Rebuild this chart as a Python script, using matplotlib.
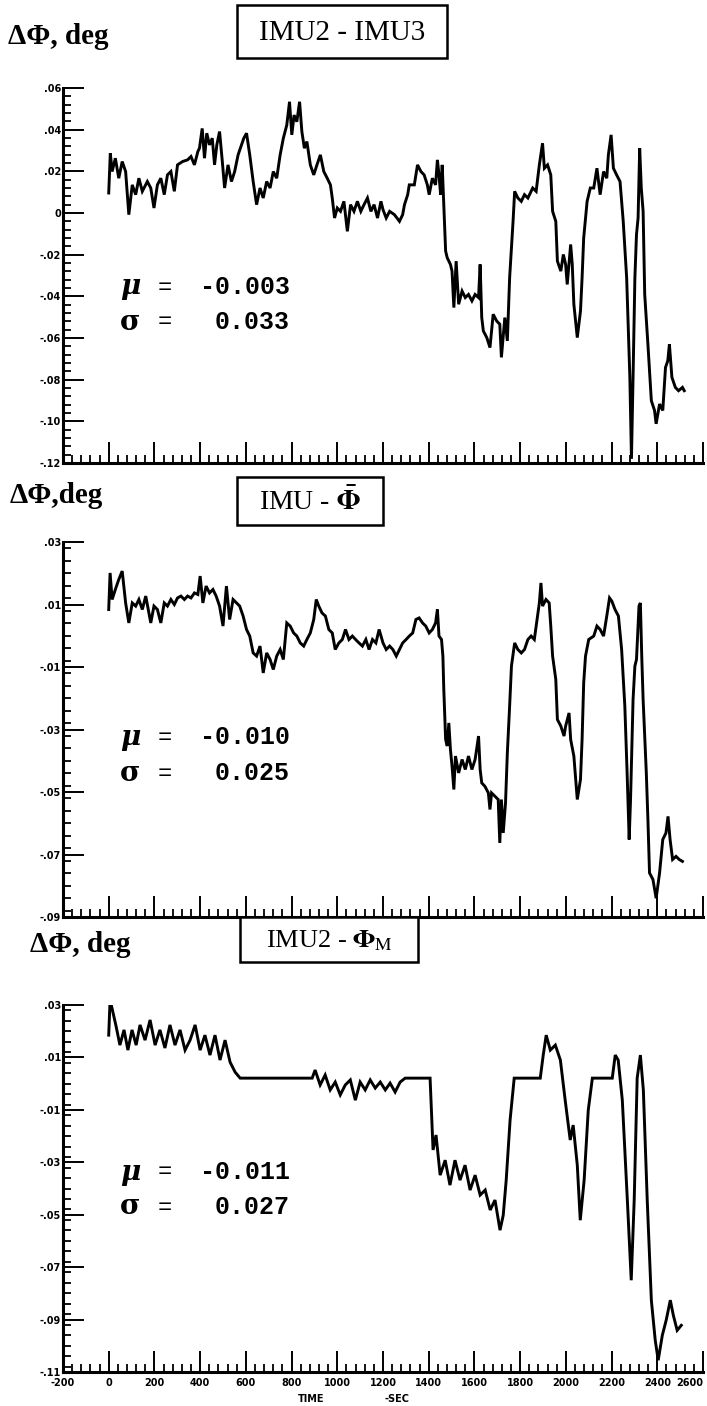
import matplotlib.pyplot as plt
from matplotlib.patches import Rectangle
from matplotlib.ticker import MultipleLocator, FuncFormatter

plt.rcParams['mathtext.fontset'] = 'stix'

# IMU2 - IMU3 (time in sec, delta phi in deg)
t1 = [0, 7, 15, 29, 44, 59, 74, 88, 103, 118, 132, 147, 169, 184, 198, 213, 228, 243,
      257, 272, 287, 301, 323, 345, 360, 375, 390, 397, 409, 419, 429, 441, 453, 463,
      473, 485, 497, 507, 522, 537, 551, 566, 581, 591, 603, 617, 632, 647, 662, 676,
      691, 706, 720, 735, 750, 764, 779, 791, 801, 811, 823, 835, 845, 856, 867, 882,
      897, 911, 926, 941, 956, 970, 978, 988, 1000, 1014, 1029, 1044, 1058, 1073, 1088,
      1103, 1117, 1132, 1147, 1161, 1176, 1191,
      1200, 1214, 1229, 1250, 1272, 1286, 1294, 1308, 1315, 1337, 1351, 1366, 1380,
      1394, 1402, 1416, 1430, 1438, 1445, 1452, 1459, 1466, 1474, 1481, 1495, 1502,
      1510, 1520, 1531, 1546, 1560, 1574, 1589, 1603, 1618, 1625, 1632, 1639, 1654,
      1668, 1682, 1697, 1711, 1718, 1733, 1744, 1754, 1769, 1776, 1790, 1805, 1819,
      1834, 1855, 1870, 1884, 1898, 1906, 1920, 1934, 1942, 1956, 1963, 1978, 1989,
      1999, 2006, 2021, 2028, 2035, 2050, 2064, 2071, 2078, 2093, 2107, 2122, 2136,
      2150, 2165, 2179, 2186, 2198, 2208, 2222, 2237, 2251, 2266, 2280, 2287, 2294,
      2302, 2309, 2316, 2323, 2330, 2338, 2345, 2359, 2374, 2388, 2395, 2410, 2424,
      2436, 2446, 2453, 2464, 2479, 2493, 2510, 2518]
d1 = [0.0096, 0.0287, 0.0199, 0.0263, 0.0167, 0.0247, 0.0199, -0.0008, 0.0135, 0.0088,
      0.0167, 0.0104, 0.0151, 0.0120, 0.0024, 0.0135, 0.0167, 0.0088, 0.0183, 0.0199,
      0.0104, 0.0231, 0.0247, 0.0255, 0.0271, 0.0231, 0.0295, 0.0311, 0.0406, 0.0263,
      0.0383, 0.0327, 0.0359, 0.0231, 0.0327, 0.0391, 0.0247, 0.0120, 0.0231, 0.0151,
      0.0199, 0.0279, 0.0327, 0.0359, 0.0383, 0.0279, 0.0151, 0.0040, 0.0120, 0.0072,
      0.0151, 0.0120, 0.0199, 0.0167, 0.0279, 0.0359, 0.0422, 0.0534, 0.0375, 0.0470,
      0.0438, 0.0534, 0.0391, 0.0311, 0.0343, 0.0231, 0.0183, 0.0231, 0.0279, 0.0199,
      0.0167, 0.0135, 0.0072, -0.0024, 0.0024, 0.0008, 0.0056, -0.0088, 0.0040, 0.0008,
      0.0056, 0.0008, 0.0040, 0.0072, 0.0008, 0.0040, -0.0024, 0.0056,
      0.0016, -0.0024, 0.0008, -0.0008, -0.0040, -0.0008, 0.0040, 0.0088, 0.0135,
      0.0135, 0.0231, 0.0199, 0.0183, 0.0135, 0.0088, 0.0167, 0.0135, 0.0255, 0.0183,
      0.0088, 0.0231, 0.0040, -0.0183, -0.0215, -0.0247, -0.0279, -0.0454, -0.0231,
      -0.0438, -0.0375, -0.0406, -0.0391, -0.0422, -0.0391, -0.0406, -0.0247, -0.0502,
      -0.0566, -0.0598, -0.0646, -0.0486, -0.0518, -0.0534, -0.0693, -0.0502, -0.0614,
      -0.0311, -0.0040, 0.0104, 0.0072, 0.0056, 0.0088, 0.0072, 0.0120, 0.0104, 0.0231,
      0.0335, 0.0215, 0.0231, 0.0183, 0.0008, -0.0040, -0.0231, -0.0279, -0.0199,
      -0.0247, -0.0343, -0.0151, -0.0247, -0.0438, -0.0598, -0.0470, -0.0311, -0.0120,
      0.0056, 0.0120, 0.0120, 0.0215, 0.0088, 0.0199, 0.0167, 0.0279, 0.0375, 0.0215,
      0.0183, 0.0151, -0.0040, -0.0311, -0.0789, -0.1180, -0.0789, -0.0311, -0.0104,
      -0.0024, 0.0311, 0.0120, 0.0008, -0.0391, -0.0630, -0.0901, -0.0948, -0.1012,
      -0.0917, -0.0948, -0.0741, -0.0709, -0.0630, -0.0789, -0.0837, -0.0853, -0.0837,
      -0.0853]

# IMU - mean phi
t2 = [0, 6, 15, 29, 44, 59, 74, 88, 103, 118, 132, 147, 162, 184, 198, 213, 228, 243,
      257, 272, 287, 301, 316, 331, 345, 360, 375, 390, 400, 412, 426, 441, 456, 470,
      485, 500, 515, 529, 544, 559, 573, 588, 603, 617, 632, 647, 662, 676, 691, 706,
      720, 735, 750, 764, 779, 794, 809, 823, 838, 853, 867, 882, 897, 908, 919, 933,
      948, 963, 978, 991, 1007, 1022, 1036, 1051, 1066, 1080, 1095, 1110, 1125, 1139,
      1154, 1169, 1183,
      1200, 1214, 1229, 1243, 1258, 1272, 1286, 1301, 1315, 1330, 1344, 1358, 1373,
      1387, 1402, 1416, 1430, 1438, 1445, 1456, 1462, 1466, 1474, 1481, 1488, 1495,
      1502, 1510, 1517, 1531, 1546, 1560, 1574, 1589, 1603, 1618, 1625, 1632, 1646,
      1661, 1668, 1675, 1690, 1704, 1711, 1718, 1726, 1736, 1744, 1754, 1762, 1776,
      1790, 1805, 1819, 1834, 1848, 1862, 1870, 1884, 1891, 1898, 1913, 1927, 1934,
      1942, 1956, 1963, 1978, 1992, 1999, 2014, 2021, 2035, 2050, 2064, 2071, 2078,
      2086, 2100, 2122, 2136, 2150, 2165, 2179, 2191, 2201, 2215, 2230, 2244, 2258,
      2268, 2277, 2283, 2294, 2302, 2309, 2320, 2326, 2332, 2338, 2352, 2359, 2366,
      2381, 2395, 2410, 2424, 2438, 2447, 2456, 2467, 2482, 2496, 2510]
d2 = [0.0084, 0.0201, 0.0116, 0.0148, 0.0180, 0.0207, 0.0105, 0.0041, 0.0105, 0.0095,
      0.0116, 0.0084, 0.0127, 0.0041, 0.0095, 0.0084, 0.0041, 0.0105, 0.0095, 0.0116,
      0.0100, 0.0121, 0.0127, 0.0116, 0.0127, 0.0121, 0.0137, 0.0132, 0.0191, 0.0105,
      0.0159, 0.0137, 0.0148, 0.0127, 0.0095, 0.0031, 0.0159, 0.0052, 0.0116, 0.0105,
      0.0095, 0.0063, 0.0020, -0.0001, -0.0055, -0.0065, -0.0033, -0.0119, -0.0055,
      -0.0076, -0.0108, -0.0065, -0.0044, -0.0076, 0.0041, 0.0031, 0.0009, -0.0001,
      -0.0023, -0.0033, -0.0012, 0.0009, 0.0052, 0.0116, 0.0095, 0.0073, 0.0063, 0.0020,
      0.0009, -0.0044, -0.0023, -0.0012, 0.0020, -0.0012, -0.0001, -0.0012, -0.0023,
      -0.0033, -0.0012, -0.0044, -0.0012, -0.0023, 0.0020,
      -0.0023, -0.0044, -0.0033, -0.0044, -0.0065, -0.0044, -0.0023, -0.0012, -0.0001,
      0.0009, 0.0052, 0.0057, 0.0041, 0.0031, 0.0009, 0.0020, 0.0041, 0.0084, -0.0001,
      -0.0012, -0.0065, -0.0172, -0.0332, -0.0353, -0.0279, -0.0364, -0.0417, -0.0492,
      -0.0385, -0.0439, -0.0396, -0.0428, -0.0385, -0.0428, -0.0396, -0.0321, -0.0428,
      -0.0471, -0.0482, -0.0503, -0.0556, -0.0503, -0.0514, -0.0524, -0.0663, -0.0524,
      -0.0631, -0.0535, -0.0375, -0.0225, -0.0097, -0.0023, -0.0044, -0.0055, -0.0044,
      -0.0012, -0.0001, -0.0012, 0.0031, 0.0105, 0.0169, 0.0095, 0.0116, 0.0105, 0.0031,
      -0.0065, -0.0140, -0.0268, -0.0289, -0.0321, -0.0289, -0.0247, -0.0332, -0.0385,
      -0.0524, -0.0460, -0.0332, -0.0151, -0.0065, -0.0012, -0.0001, 0.0031, 0.0020,
      -0.0001, 0.0063, 0.0121, 0.0111, 0.0084, 0.0063, -0.0044, -0.0225, -0.0439,
      -0.0652, -0.0524, -0.0204, -0.0097, -0.0076, 0.0095, 0.0105, -0.0065, -0.0204,
      -0.0439, -0.0588, -0.0759, -0.0780, -0.0840, -0.0759, -0.0652, -0.0631, -0.0578,
      -0.0652, -0.0716, -0.0706, -0.0716, -0.0722]

# IMU2 - phi_M
t3 = [0, 6, 19, 32, 49, 67, 84, 102, 120, 137, 159, 181, 203, 224, 246, 268, 290, 312,
      334, 356, 378, 400, 421, 443, 465, 487, 509, 531, 553, 575, 890, 903, 925, 947,
      969, 991, 1013, 1035, 1057, 1079, 1100, 1122, 1144, 1166, 1188, 1210, 1231, 1253,
      1275, 1297, 1406, 1419, 1432, 1450, 1472, 1493, 1515, 1537, 1559, 1581, 1603,
      1625, 1647, 1669, 1690, 1712, 1726, 1739, 1756, 1774, 1888, 1901, 1914, 1932,
      1954, 1976, 1997, 2019, 2032, 2050, 2063, 2080, 2098, 2116, 2203, 2216, 2229,
      2247, 2269, 2286, 2299, 2312, 2326, 2339, 2356, 2374, 2391, 2404, 2422, 2439,
      2457, 2470, 2487, 2505]
d3 = [0.0185, 0.0320, 0.0270, 0.0220, 0.0147, 0.0205, 0.0128, 0.0205, 0.0147, 0.0224,
      0.0166, 0.0243, 0.0147, 0.0205, 0.0136, 0.0224, 0.0147, 0.0205, 0.0128, 0.0166,
      0.0224, 0.0128, 0.0185, 0.0109, 0.0185, 0.0090, 0.0166, 0.0082, 0.0044, 0.0021,
      0.0021, 0.0052, -0.0005, 0.0033, -0.0024, 0.0006, -0.0043, -0.0005, 0.0014,
      -0.0063, 0.0006, -0.0024, 0.0014, -0.0017, 0.0006, -0.0024, 0.0002, -0.0032,
      0.0006, 0.0021, 0.0021, -0.0253, -0.0196, -0.0349, -0.0292, -0.0387, -0.0292,
      -0.0368, -0.0311, -0.0406, -0.0349, -0.0425, -0.0406, -0.0482, -0.0444, -0.0559,
      -0.0502, -0.0368, -0.0139, 0.0021, 0.0021, 0.0109, 0.0185, 0.0128, 0.0147, 0.0090,
      -0.0063, -0.0215, -0.0158, -0.0311, -0.0521, -0.0368, -0.0101, 0.0021, 0.0021,
      0.0109, 0.0090, -0.0063, -0.0444, -0.0750, -0.0444, 0.0021, 0.0109, -0.0024,
      -0.0444, -0.0826, -0.0979, -0.1055, -0.0960, -0.0902, -0.0826, -0.0883, -0.0941,
      -0.0922]

x_ticks = list(range(-200, 2601, 200))
y_limits = [(-0.12, 0.06), (-0.09, 0.03), (-0.11, 0.03)]
y_ticks = [[-0.12, -0.10, -0.08, -0.06, -0.04, -0.02, 0.0, 0.02, 0.04, 0.06],
           [-0.09, -0.07, -0.05, -0.03, -0.01, 0.01, 0.03],
           [-0.11, -0.09, -0.07, -0.05, -0.03, -0.01, 0.01, 0.03]]
titles = ['IMU2 - IMU3', r'IMU - $\mathbf{\bar{\Phi}}$', r'IMU2 - $\mathbf{\Phi}_{\mathrm{M}}$']
headers = ['ΔΦ, deg', 'ΔΦ,deg', 'ΔΦ, deg']
means = ['-0.003', '-0.010', '-0.011']
sigmas = ['0.033', '0.025', '0.027']

W, H = 707, 1406
fig = plt.figure(figsize=(W / 100, H / 100), dpi=100)


def fx(px):
    return px / W


def fy(py):
    return 1 - py / H


def ylab(v, pos):
    if abs(v) < 1e-9:
        return '0'
    return f'{v:.2f}'.replace('0.', '.', 1)


# axes boxes in pixels: (left, top, right, bottom)
boxes = [(63, 88, 703, 463), (63, 542, 703, 917), (63, 1005, 703, 1372)]
title_boxes = [(237, 5, 447, 58), (237, 477, 383, 525), (240, 917, 418, 962)]
title_size = [21, 20, 19]
header_pos = [(8, 37), (10, 495), (30, 945)]
stat_y = [(287, 322), (737, 773), (1172, 1207)]

for i, (ts, ds) in enumerate([(t1, d1), (t2, d2), (t3, d3)]):
    l, t, r, b = boxes[i]
    ax = fig.add_axes([fx(l), fy(b), (r - l) / W, (b - t) / H])
    ax.plot(ts, ds, color='black', lw=2.1, solid_joinstyle='miter')
    ax.set_xlim(-200, 2600)
    ax.set_ylim(*y_limits[i])
    ax.set_yticks(y_ticks[i])
    ax.yaxis.set_major_formatter(FuncFormatter(ylab))
    ax.yaxis.set_minor_locator(MultipleLocator(0.004))
    ax.set_xticks(x_ticks)
    ax.set_xticklabels([str(v) for v in x_ticks])
    ax.xaxis.set_minor_locator(MultipleLocator(40))
    for s in ['top', 'right']:
        ax.spines[s].set_visible(False)
    for s in ['left', 'bottom']:
        ax.spines[s].set_linewidth(2.2)
    ax.tick_params(which='major', direction='in', length=15, width=1.4,
                   labelsize=7, pad=1.5)
    ax.tick_params(axis='x', which='major', pad=4)
    ax.tick_params(which='minor', direction='in', length=6, width=1.3)
    for lab in ax.get_yticklabels() + ax.get_xticklabels():
        lab.set_fontweight('heavy')
        lab.set_family('DejaVu Sans')
    if i < 2:
        ax.tick_params(axis='x', labelbottom=False)
    else:
        ax.get_xticklabels()[-1].set_horizontalalignment('right')

    # header and boxed title
    hx, hy = header_pos[i]
    fig.text(fx(hx), fy(hy), headers[i], fontsize=21, fontweight='bold',
             family='Liberation Serif', ha='left', va='center')
    bl, bt, br, bb = title_boxes[i]
    fig.patches.append(Rectangle((fx(bl), fy(bb)), (br - bl) / W, (bb - bt) / H,
                                 transform=fig.transFigure, fill=True, fc='white',
                                 ec='black', lw=1.8, zorder=5))
    fig.text(fx((bl + br) / 2), fy((bt + bb) / 2 + 1), titles[i], fontsize=title_size[i],
             family='Liberation Serif', ha='center', va='center', zorder=6)

    # statistics
    my, sy = stat_y[i]
    fig.text(fx(120), fy(my), 'μ', fontsize=20, fontweight='bold', style='italic',
             family='DejaVu Serif', ha='left', va='center')
    fig.text(fx(120), fy(sy), 'σ', fontsize=20, fontweight='bold',
             family='DejaVu Serif', ha='left', va='center')
    for yy, val in [(my, means[i]), (sy, sigmas[i])]:
        fig.text(fx(158), fy(yy), '=', fontsize=17, family='Liberation Mono',
                 ha='left', va='center')
        fig.text(fx(290), fy(yy), val, fontsize=18, family='Liberation Mono',
                 fontweight='bold', ha='right', va='center')

fig.text(fx(311), fy(1399), 'TIME', fontsize=7, fontweight='heavy', ha='center', va='center')
fig.text(fx(397), fy(1399), '-SEC', fontsize=7, fontweight='heavy', ha='center', va='center')

fig.savefig('out.png', dpi=100, facecolor='white')
